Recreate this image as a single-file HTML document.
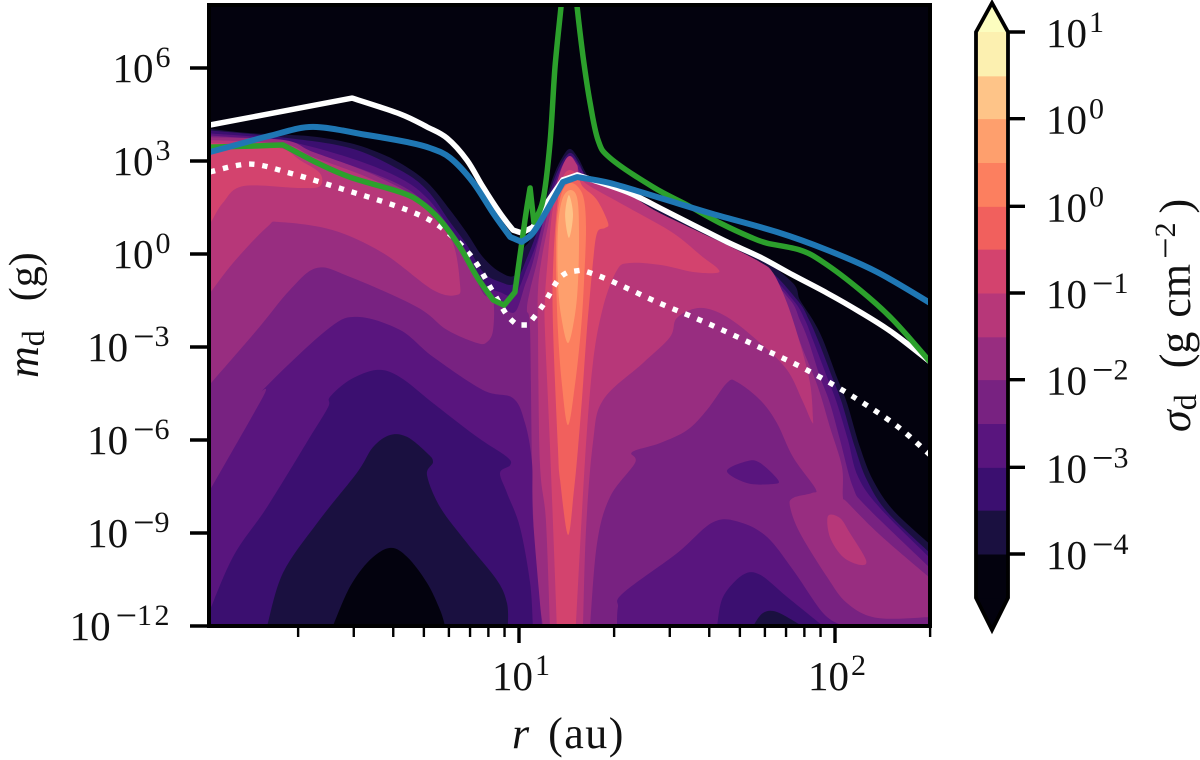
<!DOCTYPE html>
<html lang="en">
<head>
<meta charset="utf-8">
<title>Dust surface density contour chart</title>
<style>
html,body{margin:0;padding:0;background:#fff;}
svg{display:block;}
text{font-family:"Liberation Serif","DejaVu Serif",serif;fill:#111;}
</style>
</head>
<body>
<svg id="chart" width="1200" height="760" viewBox="0 0 1200 760" xmlns="http://www.w3.org/2000/svg">
<defs><clipPath id="plot-clip"><rect x="209" y="7" width="719" height="619"></rect></clipPath></defs>
<rect x="207" y="3" width="725" height="625" fill="#03020e"></rect>
<g id="contours" clip-path="url(#plot-clip)"></g>
<g id="lines" clip-path="url(#plot-clip)" fill="none"></g>
<g id="axes"></g>
<g id="colorbar"></g>
<text x="512" y="748" font-size="44"><tspan font-style="italic">r</tspan><tspan dx="19" letter-spacing="1.5">(au)</tspan></text>
<text transform="translate(38,378) rotate(-90)" font-size="44"><tspan font-style="italic">m</tspan><tspan font-size="32" dy="6">d</tspan><tspan dy="-6" dx="29" font-size="42">(g)</tspan></text>
<text transform="translate(1190,432) rotate(-90)" font-size="44"><tspan font-style="italic">σ</tspan><tspan font-size="32" dy="6">d</tspan><tspan dy="-6" dx="26">(g</tspan><tspan dx="14">cm</tspan><tspan dx="5" dy="-12" font-size="38">−</tspan><tspan dy="-3" font-size="30">2</tspan><tspan dx="9" dy="15">)</tspan></text>
<script>
// Axis data (log10 r in au, log10 m in g)
const xMajorTicks = [1, 2];
const xMajorExps = ['1', '2'];
const xMinorTicks = [2,3,4,5,6,7,8,9,20,30,40,50,60,70,80,90,200];
const yMajorTicks = [-12,-9,-6,-3,0,3,6];
const yMajorExps = ['−12','−9','−6','−3','0','3','6'];

// Colour levels, low to high
const levelColors = ['#03020e','#1a1040','#3b0f70','#59157e','#782281','#982d80','#b73779','#d3436e','#f1605d','#fc7f5f','#fe9f6d','#fec488','#fcf0b0'];
// Colorbar
const cbarEdges = [-4.42,-4,-3.58,-3.17,-2.75,-2.33,-1.92,-1.5,-1.08,-0.67,-0.25,0.17,0.58,1];
const cbarTicks = [-4,-3.17,-2.33,-1.5,-0.67,0.17,1];
const cbarExps = ['−4','−3','−2','−1','0','0','1'];

// Filled-contour outlines: [log10 r, log10 m]
const envelope1 = [[.006,4.06],[.149,3.9],[.339,3.8],[.465,3.58],[.551,3.29],[.623,2.94],[.709,2.32],[.782,1.42],[.835,.68],[.886,-.10],[.94,-.58],[.987,-.68],[1.013,.13],[1.035,.45],[1.066,1.19],[1.108,2.48],[1.136,3.10],[1.161,3.39],[1.187,3.10],[1.212,2.61],[1.234,2.39],[1.342,2.0],[1.446,1.48],[1.551,.94],[1.658,.39],[1.763,-.10],[1.867,-.94],[1.889,-1.48],[1.930,-2.13],[1.962,-2.77],[2.006,-3.97],[2.038,-4.81],[2.079,-6.23],[2.120,-7.29],[2.184,-8.26],[2.301,-9.37]];
const envelope2 = [[.006,4.0],[.244,3.77],[.465,3.42],[.623,2.71],[.709,2.06],[.782,1.03],[.835,.29],[.886,-.58],[.94,-.90],[.987,-.94],[1.025,-.13],[1.057,.71],[1.092,1.81],[1.123,2.71],[1.161,3.26],[1.193,2.87],[1.225,2.23],[1.342,1.84],[1.551,.74],[1.763,-.29],[1.880,-1.48],[1.918,-2.13],[1.946,-2.77],[1.991,-3.97],[2.022,-4.81],[2.063,-6.23],[2.101,-7.29],[2.165,-8.32],[2.301,-9.65]];
const envelope3 = [[.006,3.90],[.244,3.68],[.465,3.10],[.623,2.45],[.709,1.81],[.782,.84],[.835,.06],[.886,-.94],[.94,-1.23],[.987,-1.32],[1.025,-.45],[1.057,.39],[1.092,1.58],[1.123,2.55],[1.161,3.16],[1.199,2.71],[1.241,2.0],[1.342,1.71],[1.551,.61],[1.763,-.45],[1.867,-1.48],[1.905,-2.13],[1.930,-2.77],[1.975,-3.97],[2.006,-4.81],[2.041,-6.0],[2.073,-7.19],[2.142,-8.19],[2.301,-9.81]];
const envelope4 = [[.006,3.84],[.244,3.58],[.465,2.87],[.623,2.23],[.709,1.58],[.782,.61],[.835,-.13],[.886,-1.16],[.94,-1.65],[.987,-1.87],[1.019,-1.0],[1.044,-.26],[1.085,1.35],[1.123,2.39],[1.161,3.06],[1.199,2.55],[1.247,1.90],[1.342,1.61],[1.551,.52],[1.763,-.58],[1.858,-1.48],[1.889,-2.13],[1.915,-2.77],[1.953,-3.97],[1.984,-4.81],[2.016,-6.0],[2.057,-7.52],[2.101,-8.16],[2.301,-10.13]];
const band5Left = [[-.03,3.77],[.006,3.77],[.253,3.68],[.348,3.29],[.519,2.65],[.665,1.90],[.728,1.42],[.782,.71],[.835,-.13],[.886,-1.26],[.918,-1.48],[.918,-2.45],[.899,-2.84],[.867,-2.87],[.772,-2.45],[.677,-1.71],[.465,-.74],[.361,-.45],[.275,-1.16],[.171,-2.45],[.006,-4.39],[-.03,-4.8]];
const band5Right = [[1.076,-12],[1.051,-9.97],[1.041,-6.74],[1.035,-2.45],[1.025,-1.81],[1.035,-1.16],[1.057,-.26],[1.092,1.35],[1.123,2.29],[1.161,2.97],[1.199,2.45],[1.247,1.81],[1.342,1.52],[1.551,.42],[1.763,-.68],[1.842,-1.65],[1.899,-3.10],[1.946,-4.29],[1.984,-5.58],[2.022,-6.87],[2.025,-7.84],[2.038,-8.0],[2.142,-9.06],[2.301,-10.45]];
const band4Right = [[1.225,-12],[1.247,-9.32],[1.288,-7.84],[1.367,-6.74],[1.358,-6.39],[1.446,-6.10],[1.532,-5.68],[1.595,-5.03],[1.658,-4.16],[1.690,-4.13],[1.763,-4.71],[1.816,-5.45],[1.867,-6.55],[1.937,-7.55],[1.927,-7.71],[1.867,-7.87],[1.858,-8.16],[1.889,-9.0],[1.975,-10.42],[2.038,-11.26],[2.133,-11.74],[2.301,-11.71]];
const hill3Left = [[.006,-7.9],[.190,-4.61],[.196,-4.32],[.392,-2.45],[.487,-2.03],[.623,-2.45],[.728,-3.32],[.886,-4.39],[.981,-4.65],[1.019,-5.45],[1.041,-6.74],[1.044,-8.48],[1.073,-12]];
const hill2Left = [[.006,-11.9],[.095,-9.77],[.203,-8.16],[.339,-5.90],[.396,-4.94],[.402,-4.61],[.465,-4.06],[.551,-3.74],[.623,-3.97],[.728,-4.81],[.867,-5.90],[.962,-6.55],[.972,-6.81],[.94,-7.06],[.962,-7.71],[1.003,-8.81],[1.035,-10.61],[1.044,-12]];
const hill1Left = [[.203,-12],[.253,-10.29],[.361,-8.68],[.487,-7.06],[.538,-6.23],[.592,-5.84],[.646,-5.90],[.709,-6.42],[.728,-6.71],[.709,-7.13],[.75,-8.16],[.835,-9.32],[.930,-10.52],[.962,-11.26],[.965,-12]];
const hill0Left = [[.411,-12],[.465,-10.74],[.528,-9.87],[.592,-9.48],[.646,-9.77],[.709,-10.61],[.75,-11.48],[.766,-12]];
const hill3Right = [[1.310,-12],[1.313,-11.39],[1.329,-10.94],[1.5,-9.65],[1.614,-8.65],[1.699,-8.65],[1.785,-9.13],[1.867,-10.19],[1.962,-11.58],[2.025,-12]];
const hill2Right = [[1.627,-12],[1.646,-11.06],[1.709,-10.35],[1.763,-10.35],[1.848,-11.06],[1.962,-12]];
const hill1Right = [[1.741,-12],[1.772,-11.58],[1.816,-11.55],[1.896,-12]];
const island3 = [[1.658,-7.0],[1.722,-6.68],[1.763,-6.74],[1.820,-7.29],[1.804,-7.42],[1.722,-7.39]];
const band6Left = [[-.03,3.68],[.006,3.68],[.253,3.55],[.348,3.13],[.519,2.48],[.665,1.74],[.728,1.19],[.791,.35],[.813,-.94],[.804,-1.32],[.728,-1.16],[.570,.03],[.411,.77],[.244,1.03],[.203,.87],[.095,-.29],[.006,-1.48],[-.03,-1.9]];
const band6Right = [[1.098,-12],[1.085,-8.58],[1.066,-6.74],[1.060,-2.45],[1.060,-1.16],[1.070,-.26],[1.092,.94],[1.114,2.06],[1.139,2.87],[1.161,3.16],[1.184,2.87],[1.203,2.45],[1.342,1.94],[1.446,1.32],[1.658,.29],[1.763,-.26],[1.804,-.61],[1.848,-1.58],[1.889,-2.87],[1.921,-4.16],[1.930,-5.26],[1.927,-5.42],[1.896,-4.71],[1.848,-3.74],[1.763,-2.87],[1.658,-2.03],[1.573,-1.74],[1.5,-2.06],[1.478,-2.68],[1.392,-3.52],[1.266,-4.71],[1.234,-6.10],[1.212,-8.90],[1.203,-12]];
const island6 = [[1.978,-8.45],[2.016,-8.52],[2.047,-9.0],[2.098,-9.87],[2.079,-10.03],[2.025,-9.77],[1.984,-9.13]];
const band7Left = [[-.03,3.58],[.006,3.58],[.149,3.52],[.253,3.39],[.307,3.03],[.370,2.61],[.370,2.19],[.307,2.13],[.127,2.19],[.063,1.65],[.025,1.03],[.006,.84],[-.03,.5]];
const band7Right = [[1.120,-12],[1.098,-6.23],[1.082,-2.45],[1.082,-1.48],[1.089,-.42],[1.108,1.52],[1.139,2.48],[1.161,2.71],[1.187,2.55],[1.218,2.23],[1.342,1.52],[1.487,.68],[1.582,-.10],[1.627,-.45],[1.627,-.61],[1.551,-.58],[1.446,-.35],[1.351,-.29],[1.310,-.52],[1.266,-1.71],[1.234,-3.52],[1.209,-6.65],[1.180,-12]];
const band8 = [[1.155,-9.06],[1.130,-7.29],[1.123,-6.23],[1.108,-2.45],[1.108,-.42],[1.123,1.74],[1.146,2.39],[1.161,2.55],[1.187,2.45],[1.203,2.16],[1.247,1.74],[1.282,1.0],[1.272,.84],[1.247,.68],[1.234,-.29],[1.215,-2.45],[1.199,-4.71],[1.187,-6.23],[1.174,-7.61]];
const band9 = [[1.155,-5.52],[1.136,-4.23],[1.123,-2.45],[1.117,-.35],[1.120,1.10],[1.136,2.0],[1.161,2.29],[1.187,2.16],[1.206,1.74],[1.212,.77],[1.206,-.84],[1.196,-2.45],[1.177,-4.23]];
const band10 = [[1.155,-2.87],[1.133,-1.97],[1.123,-.84],[1.123,.77],[1.136,1.74],[1.161,2.06],[1.184,1.81],[1.190,.77],[1.187,-.84],[1.177,-1.97]];
const band11 = [[1.158,1.90],[1.146,1.26],[1.158,.52],[1.171,1.26]];

// Curves
const dottedLgR = [.022,.149,.275,.440,.646,.756,.851,.918,.962,.994,1.028,1.076,1.123,1.155,1.199,1.278,1.437,1.595,1.753,1.905,2.054,2.196,2.301];
const dottedLgM = [2.65,2.90,2.61,2.10,1.42,.84,-.10,-1.23,-1.97,-2.29,-2.29,-1.65,-.84,-.58,-.52,-.81,-1.55,-2.23,-2.97,-3.71,-4.58,-5.55,-6.48];
const whiteLgR = [.022,.472,.623,.709,.772,.835,.886,.940,.981,1.009,1.044,1.089,1.139,1.184,1.342,1.446,1.551,1.658,1.763,1.867,1.975,2.079,2.184,2.301];
const whiteLgM = [4.16,5.03,4.52,4.10,3.74,3.03,2.16,1.32,.77,.68,.87,1.65,2.39,2.55,2.0,1.48,.94,.39,-.10,-.68,-1.26,-1.87,-2.55,-3.48];
const greenLgR = [.022,.149,.253,.361,.465,.623,.687,.750,.813,.867,.918,.953,.987,1.019,1.035,1.047,1.076,1.098,1.114,1.133,1.139,1.180,1.184,1.203,1.225,1.25,1.288,1.424,1.532,1.636,1.731,1.785,1.889,1.962,2.079,2.184,2.301];
const greenLgM = [3.45,3.48,3.52,2.94,2.48,2.0,1.68,1.10,.23,-.74,-1.48,-1.65,-1.23,1.10,2.13,1.03,1.74,3.58,6.03,7.97,8.69,8.69,7.97,6.35,4.87,3.68,3.10,2.16,1.58,1.0,.55,.35,.13,-.26,-1.16,-2.13,-3.48];
const blueLgR = [.022,.127,.222,.348,.519,.646,.718,.782,.854,.918,.972,1.009,1.044,1.089,1.139,1.184,1.288,1.446,1.604,1.816,1.975,2.133,2.301];
const blueLgM = [3.29,3.58,3.84,4.10,3.84,3.61,3.42,3.10,2.32,1.32,.55,.39,.68,1.42,2.32,2.48,2.29,1.81,1.32,.71,.13,-.58,-1.58];

// Axis functions
function xAxis(lgR){ return 519 + 316 * (lgR - 1); }
function yAxis(lgM){ return 254 - 31 * lgM; }
function cbarY(v){ return 554 - (v + 4) * 104.4; }

const SVGNS = 'http://www.w3.org/2000/svg';
function make(tag, parent, attrs){
  const el = document.createElementNS(SVGNS, tag);
  for (const k in attrs) el.setAttribute(k, attrs[k]);
  parent.appendChild(el);
  return el;
}
function smoothSeg(p0, p1, p2, p3){
  const c1x = p1[0] + (p2[0] - p0[0]) / 6, c1y = p1[1] + (p2[1] - p0[1]) / 6;
  const c2x = p2[0] - (p3[0] - p1[0]) / 6, c2y = p2[1] - (p3[1] - p1[1]) / 6;
  return 'C' + c1x.toFixed(1) + ' ' + c1y.toFixed(1) + ' ' + c2x.toFixed(1) + ' ' + c2y.toFixed(1) + ' ' + p2[0].toFixed(1) + ' ' + p2[1].toFixed(1);
}
function toPixels(outline){ return outline.map(p => [xAxis(p[0]), yAxis(p[1])]); }
function anchoredPath(outline){
  const p = toPixels(outline);
  let d = 'M' + p[0][0].toFixed(1) + ' ' + p[0][1].toFixed(1);
  for (let i = 0; i < p.length - 1; i++) d += smoothSeg(p[i - 1] || p[i], p[i], p[i + 1], p[i + 2] || p[i + 1]);
  const base = yAxis(-12.2).toFixed(1);
  return d + 'L' + p[p.length - 1][0].toFixed(1) + ' ' + base + 'L' + p[0][0].toFixed(1) + ' ' + base + 'Z';
}
function closedPath(outline){
  const p = toPixels(outline), n = p.length;
  let d = 'M' + p[0][0].toFixed(1) + ' ' + p[0][1].toFixed(1);
  for (let i = 0; i < n; i++) d += smoothSeg(p[(i - 1 + n) % n], p[i], p[(i + 1) % n], p[(i + 2) % n]);
  return d + 'Z';
}

// Contours, painted back to front: [outline, level, closed?]
const contourStack = [
  [envelope1,1,false],[envelope2,2,false],[envelope3,3,false],[envelope4,4,false],
  [band5Left,5,true],[band5Right,5,false],[band4Right,4,false],
  [hill3Left,3,false],[hill3Right,3,false],[island3,3,true],
  [hill2Left,2,false],[hill2Right,2,false],
  [hill1Left,1,false],[hill1Right,1,false],[hill0Left,0,false],
  [band6Left,6,true],[band6Right,6,false],[island6,6,true],
  [band7Left,7,true],[band7Right,7,false],
  [band8,8,true],[band9,9,true],[band10,10,true],[band11,11,true]
];
const contourGroup = document.getElementById('contours');
contourStack.forEach(function(c){
  const el = make('path', contourGroup, {d: c[2] ? closedPath(c[0]) : anchoredPath(c[0]), fill: levelColors[c[1]]});
  
  
});

// Curves: smooth except at sharp vertices
function isCorner(p, i){
  if (i <= 0 || i >= p.length - 1) return true;
  const a = Math.atan2(p[i][1] - p[i-1][1], p[i][0] - p[i-1][0]);
  const b = Math.atan2(p[i+1][1] - p[i][1], p[i+1][0] - p[i][0]);
  let t = Math.abs(a - b);
  if (t > Math.PI) t = 2 * Math.PI - t;
  return t > 0.42;
}
function linePath(rs, ms){
  const p = rs.map((r, i) => [xAxis(r), yAxis(ms[i])]);
  let d = 'M' + p[0][0].toFixed(1) + ' ' + p[0][1].toFixed(1);
  for (let i = 0; i < p.length - 1; i++) {
    const prev = isCorner(p, i) ? p[i] : p[i - 1];
    const next = isCorner(p, i + 1) ? p[i + 1] : p[i + 2];
    d += smoothSeg(prev, p[i], p[i + 1], next);
  }
  return d;
}
const lineGroup = document.getElementById('lines');
const dottedCurve = make('path', lineGroup, {d: linePath(dottedLgR, dottedLgM), stroke: '#ffffff', 'stroke-width': 5.4, 'stroke-dasharray': '5.4 7.9'});


const whiteCurve = make('path', lineGroup, {d: linePath(whiteLgR, whiteLgM), stroke: '#ffffff', 'stroke-width': 5.5, 'stroke-linejoin': 'round'});


const greenCurve = make('path', lineGroup, {d: linePath(greenLgR, greenLgM), stroke: '#2ca02c', 'stroke-width': 5.5, 'stroke-linejoin': 'round'});


const blueCurve = make('path', lineGroup, {d: linePath(blueLgR, blueLgM), stroke: '#1f77b4', 'stroke-width': 6, 'stroke-linejoin': 'round'});



// Power-of-ten label
function powerLabel(parent, x, y, anchor, exp){
  const t = make('text', parent, {x: x, y: y, 'font-size': 41, 'text-anchor': anchor});
  const a = make('tspan', t, {});
  a.textContent = '10';
  if (exp.charAt(0) === '−') {
    const m = make('tspan', t, {'font-size': 38, dy: -12, dx: 5});
    m.textContent = '−';
    const b = make('tspan', t, {'font-size': 30, dy: -3, 'letter-spacing': 2.5});
    b.textContent = exp.slice(1);
  } else {
    const b = make('tspan', t, {'font-size': 30, dy: -15, dx: 2, 'letter-spacing': 1.5});
    b.textContent = exp;
  }
  return t;
}

// Axes
const axesGroup = document.getElementById('axes');
const frame = make('rect', axesGroup, {x: 209, y: 5, width: 721, height: 621, fill: 'none', stroke: '#000', 'stroke-width': 4});


xMinorTicks.forEach(function(v){
  const px = xAxis(Math.log10(v));
  const el = make('line', axesGroup, {x1: px, x2: px, y1: 627, y2: 637, stroke: '#000', 'stroke-width': 2.4});
  
  
});
xMajorTicks.forEach(function(v, i){
  const px = xAxis(v);
  const el = make('line', axesGroup, {x1: px, x2: px, y1: 627, y2: 643, stroke: '#000', 'stroke-width': 3.4});
  
  
  const lab = powerLabel(axesGroup, px - 27, 690, 'start', xMajorExps[i]);
  
  
});
yMajorTicks.forEach(function(v, i){
  const py = yAxis(v);
  const el = make('line', axesGroup, {x1: 190, x2: 208, y1: py, y2: py, stroke: '#000', 'stroke-width': 3.4});
  
  
  const lab = powerLabel(axesGroup, 172, py + 14, 'end', yMajorExps[i]);
  
  
});

// Colorbar
const cbarGroup = document.getElementById('colorbar');
const cbarTopY = cbarY(cbarEdges[cbarEdges.length - 1]);
const cbarBottomY = cbarY(cbarEdges[0]);
const arrowUp = make('path', cbarGroup, {d: 'M976 ' + cbarTopY + 'L992 3L1008 ' + cbarTopY + 'Z', fill: '#fcfdbf'});


const arrowDown = make('path', cbarGroup, {d: 'M976 ' + cbarBottomY + 'L992 630L1008 ' + cbarBottomY + 'Z', fill: '#03020e'});


levelColors.forEach(function(col, i){
  const top = cbarY(cbarEdges[i + 1]), bot = cbarY(cbarEdges[i]);
  const el = make('rect', cbarGroup, {x: 976, y: top, width: 32, height: bot - top + 0.5, fill: col});
  
  
});
const cbarFrame = make('path', cbarGroup, {d: 'M976 ' + cbarTopY + 'L992 3L1008 ' + cbarTopY + 'L1008 ' + cbarBottomY + 'L992 630L976 ' + cbarBottomY + 'Z', fill: 'none', stroke: '#000', 'stroke-width': 3.8, 'stroke-linejoin': 'miter'});


cbarTicks.forEach(function(v, i){
  const py = cbarY(v);
  const el = make('line', cbarGroup, {x1: 1007, x2: 1025, y1: py, y2: py, stroke: '#000', 'stroke-width': 3.4});
  
  
  const lab = powerLabel(cbarGroup, 1046, py + 15, 'start', cbarExps[i]);
  
  
});
</script>
</svg>
</body>
</html>
